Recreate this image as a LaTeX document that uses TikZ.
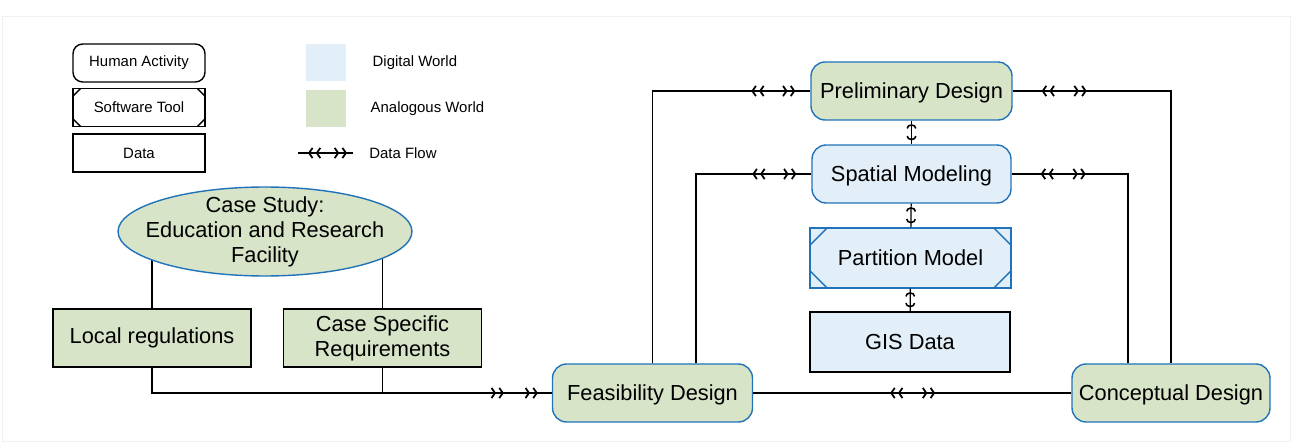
\documentclass[tikz,border=0pt]{standalone}
\usepackage{fontspec}
\setmainfont{Liberation Sans}
\usepackage{tikz}
\usetikzlibrary{positioning,arrows.meta,shapes.geometric,decorations.markings,backgrounds}
\usepackage{xcolor}
\definecolor{frameblue}{RGB}{33,115,185}
\definecolor{digiblue}{RGB}{226,238,248}
\definecolor{anagreen}{RGB}{215,228,200}
\newcommand{\boxfont}{\fontsize{12.4}{14.2}\selectfont}
\newcommand{\legfont}{\fontsize{8.5}{10}\selectfont}

\tikzset{
  link/.style={draw=black,line width=0.7pt},
  chev/.tip={Straight Barb[length=2pt,width=5.8pt,sep=1.3pt,line width=1pt]Straight Barb[length=2pt,width=5.8pt,line width=1pt]},
  % << ... >> marks on a data flow
  flow/.style 2 args={postaction={decorate,decoration={markings,
      mark=at position #1 with {\arrowreversed{chev}},
      mark=at position #2 with {\arrow{chev}}}}},
  feed/.style 2 args={postaction={decorate,decoration={markings,
      mark=at position #1 with {\arrow{chev}},
      mark=at position #2 with {\arrow{chev}}}}},
  updown/.style={postaction={decorate,decoration={markings,
      mark=at position 0.07cm with {\arrowreversed{Arc Barb[length=2.4pt,width=5.8pt,line width=0.9pt]}},
      mark=at position -0.08cm with {\arrow{Arc Barb[length=2.4pt,width=5.8pt,line width=0.9pt]}}}}},
  % cut corners of a software tool
  tool/.style 2 args={path picture={
      \draw[#1,line width=0.8pt]
        ([yshift=-#2]path picture bounding box.north west) -- ([xshift=#2]path picture bounding box.north west)
        ([xshift=-#2]path picture bounding box.north east) -- ([yshift=-#2]path picture bounding box.north east)
        ([yshift=#2]path picture bounding box.south east) -- ([xshift=-#2]path picture bounding box.south east)
        ([xshift=#2]path picture bounding box.south west) -- ([yshift=#2]path picture bounding box.south west);}},
  legbox/.style={rectangle,draw=black,line width=0.8pt,minimum width=2.64cm,
    minimum height=0.76cm,font=\legfont},
  legtext/.style={inner sep=0pt,font=\legfont},
  swatch/.style={rectangle,minimum width=0.8cm,minimum height=0.76cm,inner sep=0pt},
  activity/.style={rectangle,rounded corners=8pt,draw=frameblue,line width=0.8pt,
    minimum width=4cm,minimum height=1.16cm,font=\boxfont,text depth=0pt},
  databox/.style={rectangle,draw=black,line width=0.8pt,minimum width=3.96cm,
    minimum height=1.16cm,font=\boxfont,align=center},
}

\begin{document}
\begin{tikzpicture}[x=0.02cm,y=-0.02cm]
\useasboundingbox (0,0) rectangle (1291,442);
\draw[gray!12,line width=0.4pt] (2,16) rectangle (1290,441);

% legend
\node[legbox,rounded corners=5.5pt] (lha) at (139,63) {Human Activity};
\node[legbox,tool={black}{0.15cm}] (lst) at (139,107.5) {Software Tool};
\node[legbox] (ldt) at (139,153) {Data};
\node[swatch,fill=digiblue] (ldw) at (326,62.5) {};
\node[legtext,right=0.52cm of ldw] (ldwt) {Digital World};
\node[swatch,fill=anagreen] (law) at (326,108.5) {};
\node[legtext,right=0.48cm of law] (lawt) {Analogous World};
\coordinate (ldf1) at (298,153);
\coordinate (ldf2) at (353,153);
\draw[link,flow={0.2cm}{-0.12cm}] (ldf1) -- (ldf2);
\node[legtext,right=0.32cm of ldf2] (ldft) {Data Flow};

% case study
\node[ellipse,draw=frameblue,fill=anagreen,line width=0.8pt,minimum width=5.88cm,
  minimum height=1.78cm,inner sep=0pt] (cs) at (265,231.5) {};
\node[font=\boxfont,align=center,inner sep=0pt] (cst) at (cs) {Case Study:\\Education and Research\\Facility};
\node[databox,fill=anagreen] (loc) at (152,338) {Local regulations};
\node[databox,fill=anagreen] (csr) at (382.5,338) {Case Specific\\Requirements};
\begin{scope}[on background layer]
\draw[link] (loc.north) -- (loc.north |- cs.center);
\draw[link] (csr.north) -- (csr.north |- cs.center);
\end{scope}

% design stages
\node[activity,fill=anagreen] (fea) at (652.5,393) {Feasibility Design};
\node[activity,fill=anagreen,minimum width=3.96cm] (con) at (1171,393) {Conceptual Design};
\node[activity,fill=anagreen,minimum width=4.02cm] (pd) at (911.5,91) {Preliminary Design};
\node[activity,fill=digiblue,minimum width=3.98cm] (sm) at (911.5,174) {Spatial Modeling};
\node[rectangle,draw=frameblue,fill=digiblue,line width=0.8pt,minimum width=4.02cm,
  minimum height=1.2cm,font=\boxfont,tool={frameblue}{0.34cm}] (pm) at (910.5,258) {Partition Model};
\node[databox,fill=digiblue,minimum width=4cm,minimum height=1.2cm] (gis) at (910,342) {GIS Data};

% data flows
\draw[link,feed={-0.96cm}{-0.28cm}] (loc.south) |- (fea.west);
\draw[link] (csr.south) -- (csr.south |- fea.west);
\draw[link,flow={-1.18cm}{-0.3cm}] (fea.north) |- (pd.west);
\draw[link,flow={-1.18cm}{-0.3cm}] ([xshift=0.87cm]fea.north) |- (sm.west);
\draw[link,flow={-1.48cm}{-0.58cm}] (con.north) |- (pd.east);
\draw[link,flow={-1.48cm}{-0.58cm}] ([xshift=-0.86cm]con.north) |- (sm.east);
\draw[link,flow={2.74cm}{3.64cm}] (fea.east) -- (con.west);
\draw[link,updown] (pd) -- (sm);
\draw[link,updown] (sm) -- (pm);
\draw[link,updown] (pm) -- (gis);
\end{tikzpicture}
\end{document}
